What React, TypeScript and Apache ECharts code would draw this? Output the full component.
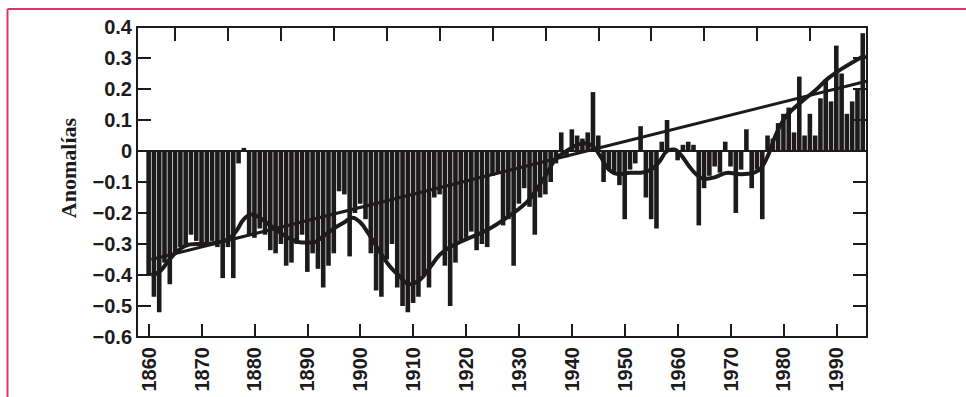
import React, { useEffect, useRef } from "react";
import * as echarts from "echarts";

// ---- Data ----
const barYears = [
  1860, 1861, 1862, 1863, 1864, 1865, 1866, 1867, 1868, 1869,
  1870, 1871, 1872, 1873, 1874, 1875, 1876, 1877, 1878, 1879,
  1880, 1881, 1882, 1883, 1884, 1885, 1886, 1887, 1888, 1889,
  1890, 1891, 1892, 1893, 1894, 1895, 1896, 1897, 1898, 1899,
  1900, 1901, 1902, 1903, 1904, 1905, 1906, 1907, 1908, 1909,
  1910, 1911, 1912, 1913, 1914, 1915, 1916, 1917, 1918, 1919,
  1920, 1921, 1922, 1923, 1924, 1925, 1926, 1927, 1928, 1929,
  1930, 1931, 1932, 1933, 1934, 1935, 1936, 1937, 1938, 1939,
  1940, 1941, 1942, 1943, 1944, 1945, 1946, 1947, 1948, 1949,
  1950, 1951, 1952, 1953, 1954, 1955, 1956, 1957, 1958, 1959,
  1960, 1961, 1962, 1963, 1964, 1965, 1966, 1967, 1968, 1969,
  1970, 1971, 1972, 1973, 1974, 1975, 1976, 1977, 1978, 1979,
  1980, 1981, 1982, 1983, 1984, 1985, 1986, 1987, 1988, 1989,
  1990, 1991, 1992, 1993, 1994, 1995,
];

const anomalies = [
  -0.40, -0.47, -0.52, -0.36, -0.43, -0.33, -0.31, -0.31, -0.27, -0.29,
  -0.31, -0.30, -0.29, -0.31, -0.41, -0.31, -0.41, -0.04, 0.01, -0.27,
  -0.28, -0.25, -0.27, -0.32, -0.33, -0.30, -0.37, -0.36, -0.30, -0.27,
  -0.39, -0.33, -0.38, -0.44, -0.37, -0.33, -0.13, -0.14, -0.34, -0.20,
  -0.17, -0.22, -0.33, -0.45, -0.47, -0.35, -0.30, -0.44, -0.50, -0.52,
  -0.49, -0.47, -0.40, -0.44, -0.15, -0.14, -0.37, -0.50, -0.36, -0.29,
  -0.28, -0.26, -0.32, -0.30, -0.31, -0.08, -0.07, -0.24, -0.22, -0.37,
  -0.17, -0.12, -0.18, -0.27, -0.15, -0.14, -0.10, -0.04, 0.06, -0.02,
  0.07, 0.05, 0.04, 0.06, 0.19, 0.05, -0.10, -0.06, -0.07, -0.11,
  -0.22, -0.06, -0.04, 0.08, -0.15, -0.22, -0.25, 0.03, 0.10, 0.01,
  -0.03, 0.02, 0.03, 0.02, -0.24, -0.12, -0.08, -0.05, -0.07, 0.03,
  -0.05, -0.20, -0.06, 0.07, -0.12, -0.06, -0.22, 0.05, 0.04, 0.09,
  0.12, 0.14, 0.06, 0.24, 0.05, 0.12, 0.05, 0.17, 0.23, 0.16,
  0.34, 0.25, 0.12, 0.16, 0.20, 0.38,
];

// smoothed curve (thick line)
const smoothYears = [
  1860.5, 1862, 1863.5, 1865, 1867, 1869, 1871, 1873, 1875, 1876.5,
  1878, 1879.5, 1881, 1883, 1885, 1887, 1889, 1891, 1893, 1895,
  1897, 1898.5, 1900, 1901.5, 1903.5, 1905.5, 1907.5, 1909.3, 1911.3, 1913.2,
  1915, 1917, 1920, 1924, 1927.7, 1931.5, 1933.5, 1935.2, 1937, 1939,
  1941, 1942.5, 1944, 1945.5, 1947, 1949, 1951, 1953, 1955, 1956.5,
  1958, 1959.3, 1960.5, 1962, 1963.5, 1965, 1967, 1969.5, 1972, 1974.5,
  1975.8, 1977.2, 1978.5, 1980, 1981.5, 1983.5, 1986, 1988.5, 1991, 1995.5,
];
const smoothValues = [
  -0.40, -0.39, -0.36, -0.33, -0.305, -0.30, -0.30, -0.295, -0.285, -0.26,
  -0.22, -0.205, -0.215, -0.24, -0.265, -0.285, -0.295, -0.295, -0.275, -0.25,
  -0.23, -0.215, -0.23, -0.265, -0.32, -0.37, -0.405, -0.43, -0.415, -0.375,
  -0.335, -0.31, -0.285, -0.255, -0.215, -0.165, -0.12, -0.075, -0.025, 0.0,
  0.02, 0.025, 0.015, -0.02, -0.06, -0.075, -0.07, -0.07, -0.06, -0.035,
  0.0, 0.005, -0.01, -0.045, -0.075, -0.09, -0.085, -0.07, -0.075, -0.07,
  -0.055, -0.01, 0.05, 0.10, 0.13, 0.16, 0.195, 0.235, 0.265, 0.31,
];

// linear trend (start and end)
const trendYears = [1860.5, 1995.7];
const trendValues = [-0.35, 0.225];

const xTickYears = [1860, 1870, 1880, 1890, 1900, 1910, 1920, 1930, 1940, 1950, 1960, 1970, 1980, 1990];
const topTickYears = [1865, 1875, 1885, 1895, 1905, 1915, 1925, 1935, 1945, 1955, 1965, 1975, 1985];
const yMin = -0.6;
const yMax = 0.4;
const yStep = 0.1;
const yAxisName = "Anomalías";

const INK = "#1c1a1b";
const FRAME = "#d8386a";
const X_MIN = 1857.8;
const X_MAX = 1995.8;

const fmtY = (v: number) => {
  const r = Math.round(v * 10) / 10;
  if (r === 0) return "0";
  return (r < 0 ? "\u2212" : "") + Math.abs(r).toFixed(1);
};

export default function App() {
  const ref = useRef<HTMLDivElement>(null);
  useEffect(() => {
    if (!ref.current) return;
    const chart = echarts.init(ref.current, null, { renderer: "svg" });
    const axisLine = { show: true, onZero: false, lineStyle: { color: INK, width: 2 } };
    const labelFont = { fontSize: 20, fontWeight: "bold", fontFamily: "Liberation Sans", color: INK };
    const option: any = {
      animation: false,
      backgroundColor: "#ffffff",
      grid: { left: 137, top: 27, width: 730, height: 310, containLabel: false },
      xAxis: [
        {
          type: "value",
          position: "bottom",
          min: X_MIN,
          max: X_MAX,
          axisLine,
          axisTick: { show: true, inside: true, length: 13, customValues: xTickYears, lineStyle: { color: INK, width: 2 } },
          axisLabel: { show: true, customValues: xTickYears, rotate: 90, margin: 10, ...labelFont, formatter: (v: number) => String(Math.round(v)) },
          splitLine: { show: false },
        },
        {
          type: "value",
          position: "top",
          min: X_MIN,
          max: X_MAX,
          axisLine,
          axisTick: { show: true, inside: true, length: 14, customValues: topTickYears, lineStyle: { color: INK, width: 2 } },
          axisLabel: { show: false },
          splitLine: { show: false },
        },
      ],
      yAxis: [
        {
          type: "value",
          position: "left",
          min: yMin,
          max: yMax,
          interval: yStep,
          axisLine,
          axisTick: { show: true, inside: true, length: 14, lineStyle: { color: INK, width: 2 } },
          axisLabel: { show: true, margin: 5, ...labelFont, formatter: fmtY },
          splitLine: { show: false },
        },
        {
          type: "value",
          position: "right",
          min: yMin,
          max: yMax,
          interval: yStep,
          axisLine,
          axisTick: { show: true, inside: true, length: 14, lineStyle: { color: INK, width: 2 } },
          axisLabel: { show: false },
          splitLine: { show: false },
        },
      ],
      series: [
        {
          type: "bar",
          xAxisIndex: 0,
          yAxisIndex: 0,
          barWidth: 4.6,
          itemStyle: { color: INK },
          data: barYears.map((y, i) => [y, anomalies[i]]),
          markLine: {
            silent: true,
            symbol: "none",
            label: { show: false },
            lineStyle: { color: INK, width: 2, type: "solid" },
            data: [{ yAxis: 0 }],
          },
        },
        {
          type: "line",
          xAxisIndex: 0,
          yAxisIndex: 0,
          smooth: 0.4,
          symbol: "none",
          lineStyle: { color: INK, width: 4 },
          data: smoothYears.map((y, i) => [y, smoothValues[i]]),
        },
        {
          type: "line",
          xAxisIndex: 0,
          yAxisIndex: 0,
          symbol: "none",
          lineStyle: { color: INK, width: 3 },
          data: trendYears.map((y, i) => [y, trendValues[i]]),
        },
      ],
      graphic: [
        { type: "line", shape: { x1: 7.5, y1: 9, x2: 966, y2: 9 }, style: { stroke: FRAME, lineWidth: 2 } },
        { type: "line", shape: { x1: 7.5, y1: 9, x2: 7.5, y2: 397 }, style: { stroke: FRAME, lineWidth: 2 } },
        {
          type: "text",
          x: 68,
          y: 168,
          rotation: Math.PI / 2,
          style: {
            text: yAxisName,
            font: 'bold 22px "Liberation Serif"',
            fill: INK,
            align: "center",
            verticalAlign: "middle",
          },
        },
      ],
    };
    chart.setOption(option);
    return () => chart.dispose();
  }, []);
  return (
    <div
      ref={ref}
      style={{ position: "fixed", left: 0, top: 0, width: 966, height: 397, background: "#fff" }}
    />
  );
}
